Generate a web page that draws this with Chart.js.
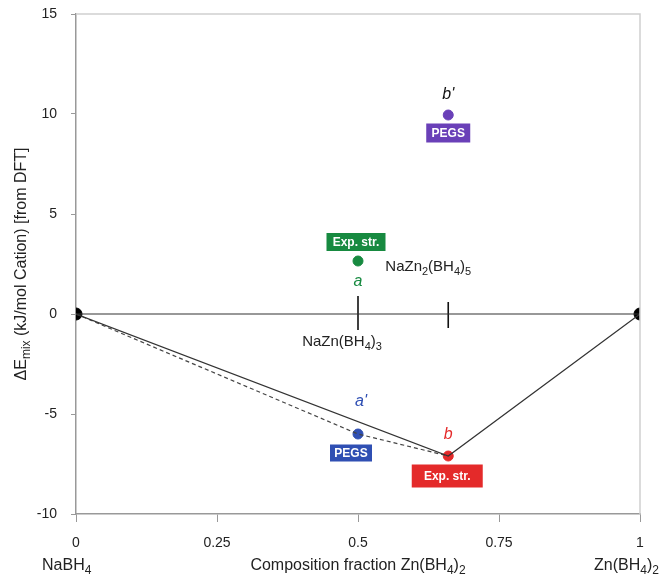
<!DOCTYPE html>
<html>
<head>
<meta charset="utf-8">
<script src="https://cdn.jsdelivr.net/npm/chart.js@4.4.1/dist/chart.umd.min.js"></script>
<style>
  html, body { margin: 0; padding: 0; background: #fff; }
  #wrap { width: 660px; height: 578px; }
</style>
</head>
<body>
<div id="wrap"><canvas id="chart" width="660" height="578"></canvas></div>
<script>
// Axis ticks
const xTicks = [0, 0.25, 0.5, 0.75, 1];
const xTickLabels = ['0', '0.25', '0.5', '0.75', '1'];
const yTicks = [-10, -5, 0, 5, 10, 15];

// End members (NaBH4, Zn(BH4)2)
const endX = [0, 1];
const endY = [0, 0];

// Convex hull (solid) and PEGS hull (dashed)
const hullX = [0, 0.66, 1];
const hullY = [0, -7.1, 0];
const pegsHullX = [0, 0.5, 0.66];
const pegsHullY = [0, -6.0, -7.1];

// Structures
const ptNames = ['a', "a'", 'b', "b'"];
const ptX = [0.5, 0.5, 0.66, 0.66];
const ptY = [2.65, -6.0, -7.1, 9.95];
const ptColors = ['#178a40', '#2f4fb3', '#e42a2a', '#6a40b8'];

// Composition markers on the zero line
const markX = [0.5, 0.66];
const markTop = [0.9, 0.6];
const markBottom = [-0.8, -0.7];

const FONT = '"Liberation Sans", Arial, sans-serif';

function pts(xs, ys) { return xs.map((x, i) => ({ x, y: ys[i] })); }

// draw text with subscripts: parts = [[text, isSub], ...]
function richText(ctx, parts, x, y, size, align, weight) {
  const subSize = Math.round(size * 0.72);
  let w = 0;
  parts.forEach(p => {
    ctx.font = (weight || '') + ' ' + (p[1] ? subSize : size) + 'px ' + FONT;
    w += ctx.measureText(p[0]).width;
  });
  let cx = align === 'center' ? x - w / 2 : (align === 'right' ? x - w : x);
  ctx.textAlign = 'left';
  ctx.textBaseline = 'middle';
  parts.forEach(p => {
    ctx.font = (weight || '') + ' ' + (p[1] ? subSize : size) + 'px ' + FONT;
    ctx.fillText(p[0], cx, p[1] ? y + size * 0.3 : y);
    cx += ctx.measureText(p[0]).width;
  });
}

function tagBox(ctx, text, cx, cy, w, h, color) {
  ctx.fillStyle = color;
  ctx.fillRect(cx - w / 2, cy - h / 2, w, h);
  ctx.fillStyle = '#fff';
  ctx.font = 'bold 12px ' + FONT;
  ctx.textAlign = 'center';
  ctx.textBaseline = 'middle';
  ctx.fillText(text, cx, cy + 1);
}

const annotations = {
  id: 'annotations',
  afterDraw(chart) {
    const ctx = chart.ctx;
    const xs = chart.scales.x, ys = chart.scales.y;
    const area = chart.chartArea;
    ctx.save();

    // frame top/right
    ctx.strokeStyle = '#cfcfcf';
    ctx.lineWidth = 1.5;
    ctx.beginPath();
    ctx.moveTo(area.left, area.top);
    ctx.lineTo(area.right, area.top);
    ctx.lineTo(area.right, area.bottom);
    ctx.stroke();

    const px = i => xs.getPixelForValue(ptX[i]);
    const py = i => ys.getPixelForValue(ptY[i]);

    // point letters
    ctx.font = 'italic 16px ' + FONT;
    ctx.textAlign = 'center';
    ctx.textBaseline = 'middle';
    ctx.fillStyle = ptColors[0];
    ctx.fillText(ptNames[0], px(0), py(0) + 21);
    ctx.fillStyle = ptColors[1];
    ctx.fillText(ptNames[1], px(1) + 3, py(1) - 32);
    ctx.fillStyle = ptColors[2];
    ctx.fillText(ptNames[2], px(2), py(2) - 21);
    ctx.fillStyle = '#111';
    ctx.fillText(ptNames[3], px(3), py(3) - 20);

    // tags
    tagBox(ctx, 'Exp. str.', px(0) - 2, py(0) - 19, 59, 18, ptColors[0]);
    tagBox(ctx, 'PEGS', px(1) - 7, py(1) + 19, 42, 17, ptColors[1]);
    tagBox(ctx, 'Exp. str.', px(2) - 1, py(2) + 20, 71, 23, ptColors[2]);
    tagBox(ctx, 'PEGS', px(3), py(3) + 18, 44, 19, ptColors[3]);

    // compound labels
    ctx.fillStyle = '#222';
    const zeroY = ys.getPixelForValue(0);
    richText(ctx, [['NaZn', 0], ['2', 1], ['(BH', 0], ['4', 1], [')', 0], ['5', 1]],
      xs.getPixelForValue(markX[1]) - 20, zeroY - 47, 15, 'center');
    richText(ctx, [['NaZn(BH', 0], ['4', 1], [')', 0], ['3', 1]],
      xs.getPixelForValue(markX[0]) - 16, zeroY + 28, 15, 'center');

    // axis titles
    richText(ctx, [['Composition fraction Zn(BH', 0], ['4', 1], [')', 0], ['2', 1]],
      (area.left + area.right) / 2, 566, 16, 'center');
    richText(ctx, [['NaBH', 0], ['4', 1]], area.left - 34, 566, 16, 'left');
    richText(ctx, [['Zn(BH', 0], ['4', 1], [')', 0], ['2', 1]], 659, 566, 16, 'right');

    ctx.translate(22, (area.top + area.bottom) / 2);
    ctx.rotate(-Math.PI / 2);
    richText(ctx, [['\u0394E', 0], ['mix', 1], [' (kJ/mol Cation) [from DFT]', 0]], 0, 0, 16, 'center');
    ctx.restore();
  }
};

const lineDs = (data, extra) => Object.assign({
  data, showLine: true, pointRadius: 0, borderColor: '#333', borderWidth: 1.2, fill: false
}, extra);

const datasets = [
  lineDs(pts(endX, endY), {}),
  lineDs(pts(hullX, hullY), {}),
  lineDs(pts(pegsHullX, pegsHullY), { borderDash: [4, 3], borderColor: '#444' }),
];
markX.forEach((x, i) => {
  datasets.push(lineDs([{ x, y: markTop[i] }, { x, y: markBottom[i] }], { borderColor: '#111', borderWidth: 1.6 }));
});
datasets.push({
  data: pts(endX, endY), showLine: false, pointRadius: 6,
  pointBackgroundColor: '#000', pointBorderColor: '#000'
});
datasets.push({
  data: pts(ptX, ptY), showLine: false, pointRadius: 5,
  pointBackgroundColor: ptColors, pointBorderColor: ptColors
});

new Chart(document.getElementById('chart'), {
  type: 'scatter',
  data: { datasets },
  options: {
    responsive: false,
    animation: false,
    layout: { padding: { top: 14, right: 20, left: 0, bottom: 0 } },
    plugins: { legend: { display: false }, tooltip: { enabled: false } },
    scales: {
      x: {
        type: 'linear', min: 0, max: 1,
        afterFit: s => { s.height = 64; s.paddingLeft = 0; s.paddingRight = 0; },
        afterBuildTicks: s => { s.ticks = xTicks.map(v => ({ value: v })); },
        ticks: {
          color: '#222', font: { family: FONT, size: 14 }, padding: 13,
          callback: v => xTickLabels[xTicks.indexOf(v)]
        },
        grid: { drawOnChartArea: false, drawTicks: true, tickLength: 8, color: '#999' },
        border: { color: '#999', width: 1.5 }
      },
      y: {
        type: 'linear', min: -10, max: 15,
        afterFit: s => { s.width = 76; s.paddingTop = 0; s.paddingBottom = 0; },
        afterBuildTicks: s => { s.ticks = yTicks.map(v => ({ value: v })); },
        ticks: { color: '#222', font: { family: FONT, size: 14 }, padding: 14 },
        grid: { drawOnChartArea: false, drawTicks: true, tickLength: 5, color: '#999' },
        border: { color: '#999', width: 1.5 }
      }
    }
  },
  plugins: [annotations]
});
</script>
</body>
</html>
